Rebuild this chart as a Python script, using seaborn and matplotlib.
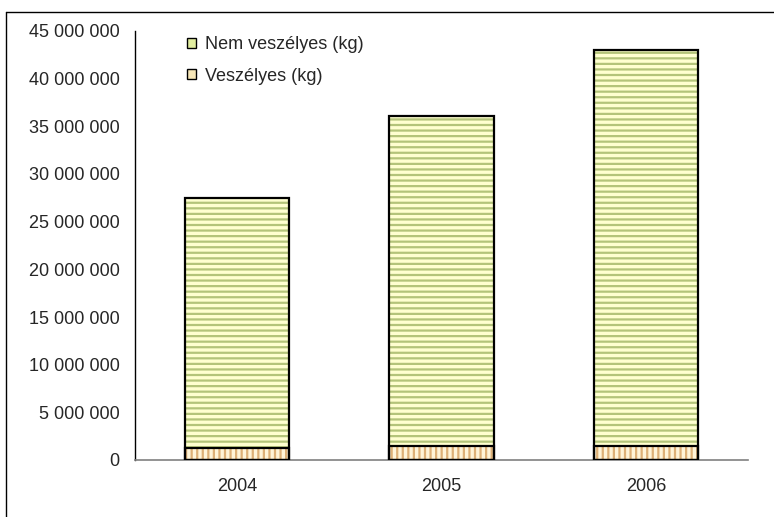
import numpy as np
import pandas as pd
import matplotlib
matplotlib.use("Agg")
import matplotlib.pyplot as plt
import seaborn as sns
from matplotlib.patches import Rectangle, Patch
from matplotlib.lines import Line2D
from matplotlib.ticker import FuncFormatter

# data (kg)
years = ["2004", "2005", "2006"]
nem_veszelyes = [26160000, 34630000, 41540000]
veszelyes = [1290000, 1470000, 1460000]
labels = ["Nem veszélyes (kg)", "Veszélyes (kg)"]

df = pd.DataFrame({"ev": years, "nem": nem_veszelyes, "vesz": veszelyes})
df["total"] = df["nem"] + df["vesz"]

sns.set_style("white")
plt.rcParams["font.family"] = ["Liberation Sans", "DejaVu Sans"]
plt.rcParams["hatch.linewidth"] = 1.6

fig = plt.figure(figsize=(7.74, 5.17), dpi=100)
ax = fig.add_axes([135 / 774, 1 - 460 / 517, (748 - 135) / 774, (460 - 31) / 517])

# top segment drawn full height, bottom segment drawn over it
sns.barplot(data=df, x="ev", y="total", ax=ax, color="#FFFFD0", width=0.51)
n_top = len(ax.patches)
sns.barplot(data=df, x="ev", y="vesz", ax=ax, color="#FFF4D8", width=0.51)

for i, p in enumerate(list(ax.patches)):
    if i < n_top:
        p.set_facecolor("#FFFFD0")
        p.set_hatch("---")
        p.set_edgecolor("#B4C47A")
    else:
        p.set_facecolor("#FFF4D8")
        p.set_hatch("|||")
        p.set_edgecolor("#DDB077")
    p.set_linewidth(0)
    ax.add_patch(Rectangle(p.get_xy(), p.get_width(), p.get_height(),
                           fill=False, edgecolor="black", linewidth=1.6, zorder=3))

ax.set_xlim(-0.5, 2.5)
ax.set_ylim(0, 45000000)
ax.set_yticks(np.arange(0, 45000001, 5000000))
ax.yaxis.set_major_formatter(FuncFormatter(lambda v, _: f"{int(v):,}".replace(",", " ")))
ax.set_xlabel("")
ax.set_ylabel("")

# category ticks sit between the categories
ax.set_xticks([-0.5, 0.5, 1.5, 2.5], minor=False)
ax.set_xticklabels([])
ax.set_xticks([0, 1, 2], minor=True)
ax.set_xticklabels(years, minor=True)
ax.tick_params(axis="x", which="minor", length=0, pad=13, labelsize=13)
ax.tick_params(axis="x", which="major", length=5, color="#808080", width=1)
ax.tick_params(axis="y", length=5, width=1, color="black", labelsize=13, pad=6)

for s in ["top", "right"]:
    ax.spines[s].set_visible(False)
ax.spines["left"].set_color("black")
ax.spines["bottom"].set_color("#808080")
ax.spines["left"].set_linewidth(1)
ax.spines["bottom"].set_linewidth(1.2)
ax.grid(False)

handles = [Patch(facecolor="#E2EEA0", edgecolor="black", linewidth=1),
           Patch(facecolor="#F7E7B8", edgecolor="black", linewidth=1)]
ax.legend(handles, labels, loc="upper left", bbox_to_anchor=(0.0585, 1.026),
          frameon=False, fontsize=13, handlelength=0.5, handleheight=0.5,
          handletextpad=0.5, labelspacing=0.8)

# outer chart border (only top and left are inside the image)
fig.add_artist(Line2D([6 / 774, 6 / 774], [0, 1 - 12 / 517], color="black", linewidth=1))
fig.add_artist(Line2D([6 / 774, 1], [1 - 12 / 517, 1 - 12 / 517], color="black", linewidth=1))

fig.savefig("out.png", dpi=100)
